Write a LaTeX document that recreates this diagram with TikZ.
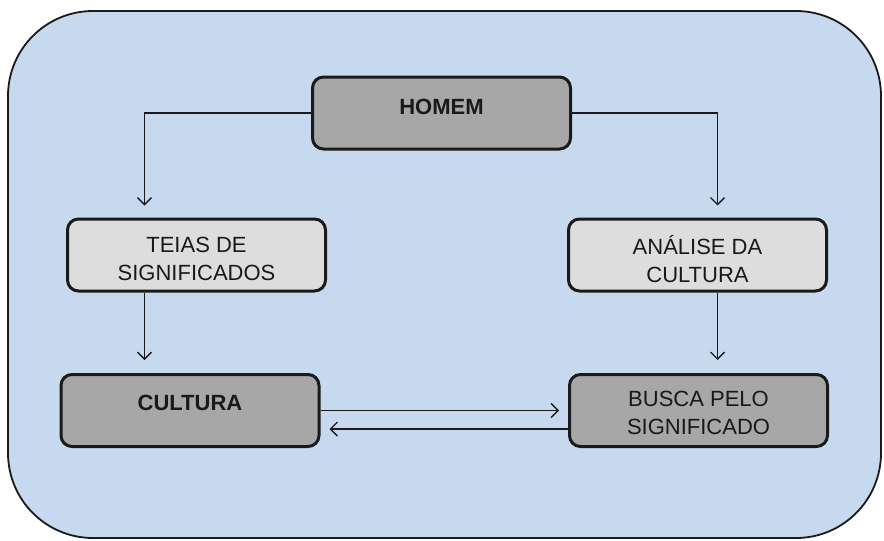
\documentclass[tikz,border=0pt]{standalone}
\usepackage{fontspec}
\setmainfont{Liberation Sans}
\usetikzlibrary{arrows.meta}
\usetikzlibrary{positioning}
\definecolor{bgblue}{HTML}{C6D9EE}
\definecolor{boxdark}{HTML}{A7A7A7}
\definecolor{boxlight}{HTML}{DDDDDD}
\definecolor{edge}{HTML}{1A1A1A}
\tikzset{
    panel/.style={draw=edge, line width=1.8pt, fill=bgblue, rounded corners=85pt},
    box/.style={draw=edge, line width=3pt, rounded corners=11pt,
        minimum width=258pt, minimum height=72pt, inner sep=0pt},
    darkbox/.style={box, fill=boxdark},
    lightbox/.style={box, fill=boxlight},
    caption/.style={font=\fontsize{22}{28}\selectfont, align=center, text=black!90, inner sep=0pt},
    bold/.style={font=\fontsize{22}{28}\selectfont\bfseries},
    flow/.style={draw=edge, line width=1.3pt, -{Straight Barb[length=7pt,width=14pt]}},
}

\begin{document}
\begin{tikzpicture}[x=1pt, y=-1pt]
	\useasboundingbox (0,0) rectangle (884,541);
	\draw[panel] (8,11) rectangle (881,538);
	% boxes
	\node[darkbox] (homem) at (441.5,113) {};
	\node[lightbox] (teias) at (196.5,255) {};
	\node[lightbox] (analise) at (697.5,255) {};
	\node[darkbox] (cultura) at (190,410.5) {};
	\node[darkbox] (busca) at (698.5,410.5) {};
	% texts
	\node[caption, bold] (homemtxt) at (441.5,107) {HOMEM};
	\node[caption] (teiastxt) at (196.5,259) {TEIAS DE\\SIGNIFICADOS};
	\node[caption] (analisetxt) at (697.5,259) {ANÁLISE DA\\CULTURA};
	\node[caption, bold] (culturatxt) at (190,403) {CULTURA};
	\node[caption] (buscatxt) at (698.5,413) {BUSCA PELO\\SIGNIFICADO};
	% arrows
	\draw[flow, shorten >=12pt] (homem.west) -| ([xshift=-52pt]teias.north);
	\draw[flow, shorten >=12pt] (homem.east) -| ([xshift=20pt]analise.north);
	\draw[flow, shorten >=13pt] ([xshift=-52pt]teias.south) -- ([xshift=-52pt]teias.south |- cultura.north);
	\draw[flow, shorten >=13pt] ([xshift=20pt]analise.south) -- ([xshift=20pt]analise.south |- busca.north);
	\draw[flow, shorten >=9pt] (cultura.east) -- (busca.west |- cultura.east);
	\draw[flow, shorten >=9pt] ([yshift=-18.5pt]busca.west) -- ([yshift=-18.5pt]busca.west -| cultura.east);
\end{tikzpicture}
\end{document}
